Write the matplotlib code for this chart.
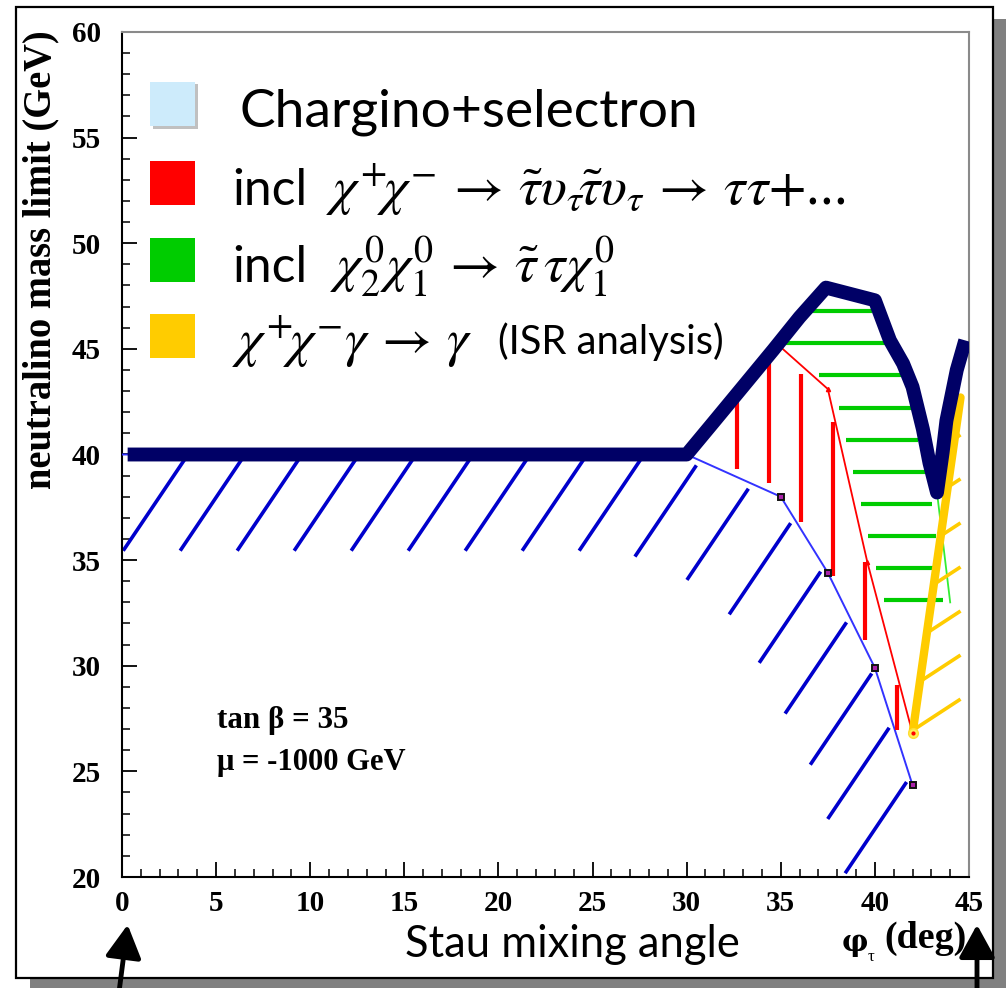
import numpy as np
import matplotlib
matplotlib.use("Agg")
import matplotlib.pyplot as plt
from matplotlib.patches import Rectangle, FancyArrowPatch
from matplotlib.collections import LineCollection
from matplotlib.ticker import MultipleLocator

plt.rcParams["mathtext.fontset"] = "stix"

W, H, DPI = 1006, 988, 100

# ---------------- data ----------------
# combined limit (thick navy curve)
navy_x = [0.3, 30.0, 31.4, 32.7, 34.6, 36.0, 37.1, 37.4, 40.0, 40.8, 41.5, 42.0,
          42.55, 42.9, 43.3, 43.6, 43.8, 44.35, 44.8]
navy_y = [40.0, 40.0, 41.5, 42.9, 44.95, 46.5, 47.6, 47.9, 47.3, 45.4, 44.3, 43.2,
          41.2, 39.6, 38.2, 40.1, 41.6, 44.0, 45.4]
# chargino + selectron (blue, hatched below)
blue_x = [0.0, 30.0, 35.0, 37.5, 40.0, 42.0]
blue_y = [40.0, 40.0, 38.0, 34.4, 29.9, 24.35]
# incl. chargino -> stau nu (red)
red_x = [35.1, 37.5, 39.6, 42.0]
red_y = [45.0, 43.1, 34.9, 26.8]
# incl. chi2 chi1 -> stau tau chi1 (green)
green_x = [43.3, 44.0]
green_y = [38.2, 33.0]
# ISR analysis (yellow)
isr_x = [42.0, 44.55]
isr_y = [26.8, 42.7]

x_ticks = [0, 5, 10, 15, 20, 25, 30, 35, 40, 45]
y_ticks = [20, 25, 30, 35, 40, 45, 50, 55, 60]

legend_colors = ["#cdebfb", "#ff0000", "#00cc00", "#ffcc00"]
legend_text0 = "Chargino+selectron"
legend_math1 = (r"$\chi^{+}\!\chi^{-}\,{\rightarrow}\,\tilde{\tau}\upsilon_{\tau}\!"
                r"\tilde{\tau}\upsilon_{\tau}\,{\rightarrow}\,\tau\tau{+}$...")
legend_math2 = (r"$\chi_{2}^{0}\chi_{1}^{0}\,{\rightarrow}\,"
                r"\tilde{\tau}\,\tau\chi_{1}^{0}$")
legend_math3 = r"$\chi^{+}\!\chi^{-}\gamma\,{\rightarrow}\,\gamma$"

NAVY = "#000066"
BLUE_H = "#0000cc"
BLUE_L = "#3333ff"
RED = "#ff0000"
GREEN = "#00cc00"
GREEN_L = "#33ee33"
YELLOW = "#ffcc00"

# ---------------- figure ----------------
fig = plt.figure(figsize=(W / DPI, H / DPI), dpi=DPI)
fig.patch.set_facecolor("white")


def fx(px):
    return px / W


def fy(py):
    return 1 - py / H


# outer frame with shadow
fig.patches.append(Rectangle((fx(30), fy(990)), fx(1010) - fx(30), fy(19) - fy(990),
                             transform=fig.transFigure, facecolor="#808080",
                             edgecolor="none", zorder=-3))
fig.patches.append(Rectangle((fx(16), fy(978)), fx(993) - fx(16), fy(7) - fy(978),
                             transform=fig.transFigure, facecolor="white",
                             edgecolor="black", linewidth=1.6, zorder=-2))

ax = fig.add_axes([fx(122), fy(877), fx(969) - fx(122), fy(32) - fy(877)])
ax.set_facecolor("none")
ax.set_xlim(0, 45)
ax.set_ylim(20, 60)

for s in ["left", "bottom"]:
    ax.spines[s].set_color("black")
    ax.spines[s].set_linewidth(1.5)
for s in ["top", "right"]:
    ax.spines[s].set_color("#8a8a8a")
    ax.spines[s].set_linewidth(1.5)

tick_font = dict(fontfamily="Liberation Serif", fontweight="bold", fontsize=21)
ax.set_xticks(x_ticks, labels=[str(v) for v in x_ticks], **tick_font)
ax.set_yticks(y_ticks, labels=[str(v) for v in y_ticks], **tick_font)
ax.xaxis.set_minor_locator(MultipleLocator(1))
ax.yaxis.set_minor_locator(MultipleLocator(1))
ax.tick_params(which="major", direction="in", length=11, width=1.3,
               top=False, right=False)
ax.tick_params(which="minor", direction="in", length=5.5, width=1.1,
               top=False, right=False)
ax.tick_params(axis="y", which="major", pad=15)
ax.tick_params(axis="x", which="major", pad=9)

T = ax.transData
Tinv = T.inverted()

# ---------- blue hatching (fixed-length strokes below the blue curve) ----------
P = T.transform(np.column_stack([blue_x, blue_y]))
seg = np.diff(P, axis=0)
L = np.hypot(seg[:, 0], seg[:, 1])
cum = np.concatenate([[0], np.cumsum(L)])
d = np.array([-64.0, -95.0])
d /= np.hypot(*d)
hatch_len, gap, spacing, start = 110.0, 6.0, 57.0, 66.0
blue_segs = []
for s in np.arange(start, cum[-1], spacing):
    i = min(max(np.searchsorted(cum, s) - 1, 0), len(L) - 1)
    p = P[i] + seg[i] * (s - cum[i]) / L[i]
    a = p + d * gap
    b = p + d * (gap + hatch_len)
    blue_segs.append(Tinv.transform(np.array([a, b])))
ax.add_collection(LineCollection(blue_segs, colors=BLUE_H, linewidths=2.6,
                                 zorder=2, capstyle="butt"))
ax.plot(blue_x, blue_y, color=BLUE_L, lw=1.4, zorder=3)
ax.plot(blue_x[2:], blue_y[2:], ls="none", marker="s", ms=5, mfc="#aa22aa",
        mec="#111111", mew=1.4, zorder=6)


def poly_cross(xs, ys, value, axis):
    """crossings of closed polygon with x=value (axis=0) or y=value (axis=1)"""
    pts = np.column_stack([xs, ys])
    out = []
    for k in range(len(pts)):
        p, q = pts[k], pts[(k + 1) % len(pts)]
        a, b = p[axis], q[axis]
        if (a < value) != (b < value):
            t = (value - a) / (b - a)
            out.append(p[1 - axis] + t * (q[1 - axis] - p[1 - axis]))
    return out


# ---------- red region: vertical hatches ----------
nx = np.array(navy_x)
ny = np.array(navy_y)
up_mask = (nx >= 30) & (nx < red_x[0])
red_poly_x = list(nx[up_mask]) + red_x + blue_x[::-1][:4]
red_poly_y = list(ny[up_mask]) + red_y + blue_y[::-1][:4]
red_segs = []
for xv in np.arange(32.7, red_x[-1], 1.7):
    c = poly_cross(red_poly_x, red_poly_y, xv, 0)
    if len(c) >= 2:
        red_segs.append([(xv, max(c) - 0.4), (xv, min(c) + 0.4)])
ax.add_collection(LineCollection(red_segs, colors=RED, linewidths=3.0, zorder=3))
ax.plot(red_x, red_y, color=RED, lw=1.3, zorder=4,
        marker="^", ms=3, markevery=[1, 2])

# ---------- green region: horizontal hatches ----------
gi0 = navy_x.index(34.6)
gi1 = navy_x.index(43.3)
red_at_gbot = float(np.interp(green_y[-1], red_y[::-1], red_x[::-1]))
g_poly_x = navy_x[gi0:gi1 + 1] + [green_x[-1], red_at_gbot] + red_x[:3][::-1]
g_poly_y = navy_y[gi0:gi1 + 1] + [green_y[-1], green_y[-1]] + red_y[:3][::-1]
green_segs = []
for yv in np.arange(33.1, 47.5, 1.52):
    c = poly_cross(g_poly_x, g_poly_y, yv, 1)
    if len(c) >= 2:
        green_segs.append([(min(c) + 0.35, yv), (max(c) - 0.35, yv)])
ax.add_collection(LineCollection(green_segs, colors=GREEN, linewidths=3.0, zorder=3))
ax.plot(green_x, green_y, color=GREEN_L, lw=1.3, zorder=4)

# ---------- ISR region: slanted hatches ----------
slope = (32.0 / 21.125) / (49.0 / 18.822)
isr_segs = []
for yv in np.arange(isr_y[0] + 0.15, isr_y[1] - 1.0, 2.3):
    x0 = float(np.interp(yv, isr_y, isr_x))
    isr_segs.append([(x0, yv), (isr_x[1], yv + (isr_x[1] - x0) * slope)])
ax.add_collection(LineCollection(isr_segs, colors=YELLOW, linewidths=2.6, zorder=4))
ax.plot(isr_x, isr_y, color=YELLOW, lw=6, zorder=5, solid_capstyle="round")
ax.plot(isr_x[:1], isr_y[:1], ls="none", marker="o", ms=7, mfc="#ffee55",
        mec="#ffdd33", zorder=6)
ax.plot(isr_x[:1], isr_y[:1], ls="none", marker="o", ms=2, mfc=RED,
        mec=RED, zorder=6)

# ---------- combined limit ----------
ax.plot(navy_x, navy_y, color=NAVY, lw=10, zorder=7,
        solid_capstyle="butt", solid_joinstyle="round")

# ---------------- texts ----------------
renderer = fig.canvas.get_renderer()


def ftxt(px, py, s, width=None, height=None, **kw):
    t = fig.text(fx(px), fy(py), s, **kw)
    if width is not None or height is not None:
        bb = t.get_window_extent(renderer)
        sc = (width / bb.width) if width is not None else (height / bb.height)
        t.set_fontsize(t.get_fontsize() * sc)
    return t


SANS = dict(fontfamily="Lato", fontweight="normal")
SERB = dict(fontfamily="Liberation Serif", fontweight="bold")
SER = dict(fontfamily="Liberation Serif")

# legend boxes
box_y = [82, 161, 238, 314]
for c, yb in zip(legend_colors, box_y):
    if c == legend_colors[0]:
        fig.patches.append(Rectangle((fx(153), fy(yb + 47)), fx(45), fy(0) - fy(45),
                                     transform=fig.transFigure, facecolor="#c0c0c0",
                                     edgecolor="none", zorder=1))
    fig.patches.append(Rectangle((fx(150), fy(yb + 44)), fx(45), fy(0) - fy(44),
                                 transform=fig.transFigure, facecolor=c,
                                 edgecolor="none", zorder=2))

ftxt(239, 127, legend_text0, width=459, fontsize=30, va="baseline", **SANS)
ftxt(232, 205, "incl", width=75, fontsize=30, va="baseline", **SANS)
m1 = ftxt(326, 205, legend_math1, width=520, fontsize=30, va="baseline", **SER)
msize = m1.get_fontsize()
ftxt(232, 282, "incl", width=75, fontsize=30, va="baseline", **SANS)
ftxt(330, 282, legend_math2, fontsize=msize, va="baseline", **SER)
ftxt(232, 357, legend_math3, fontsize=msize, va="baseline", **SER)
ftxt(498, 354, "(ISR analysis)", width=226, fontsize=20, va="baseline", **SANS)

# annotations inside the plot
ftxt(217, 728, "tan β = 35", width=132, fontsize=16, va="baseline", **SERB)
ftxt(217, 770, "μ = -1000 GeV", width=190, fontsize=16, va="baseline", **SERB)

# axis titles
ftxt(41, 30, "neutralino mass limit (GeV)", height=460, fontsize=22,
     rotation=90, ha="center", va="top", **SERB)
ftxt(572, 957, "Stau mixing angle", width=335, fontsize=28, ha="center",
     va="baseline", **SANS)
ftxt(842, 951, "φ", fontsize=21, va="baseline", fontfamily="DejaVu Serif",
     fontweight="bold")
ftxt(868, 961, "τ", fontsize=12, va="baseline", **SER)
ftxt(884, 948, "(deg)", width=82, fontsize=22, va="baseline", **SERB)

# arrows pointing at the axis ends
for (x0, y0), (x1, y1) in [((118, 1000), (128, 922)), ((977, 1000), (977, 922))]:
    fig.patches.append(FancyArrowPatch((fx(x0), fy(y0)), (fx(x1), fy(y1)),
                                       transform=fig.transFigure,
                                       arrowstyle="-|>,head_length=1.0,head_width=0.55",
                                       mutation_scale=20, color="black",
                                       linewidth=3.5, zorder=5))

fig.savefig("out.png", dpi=DPI)
